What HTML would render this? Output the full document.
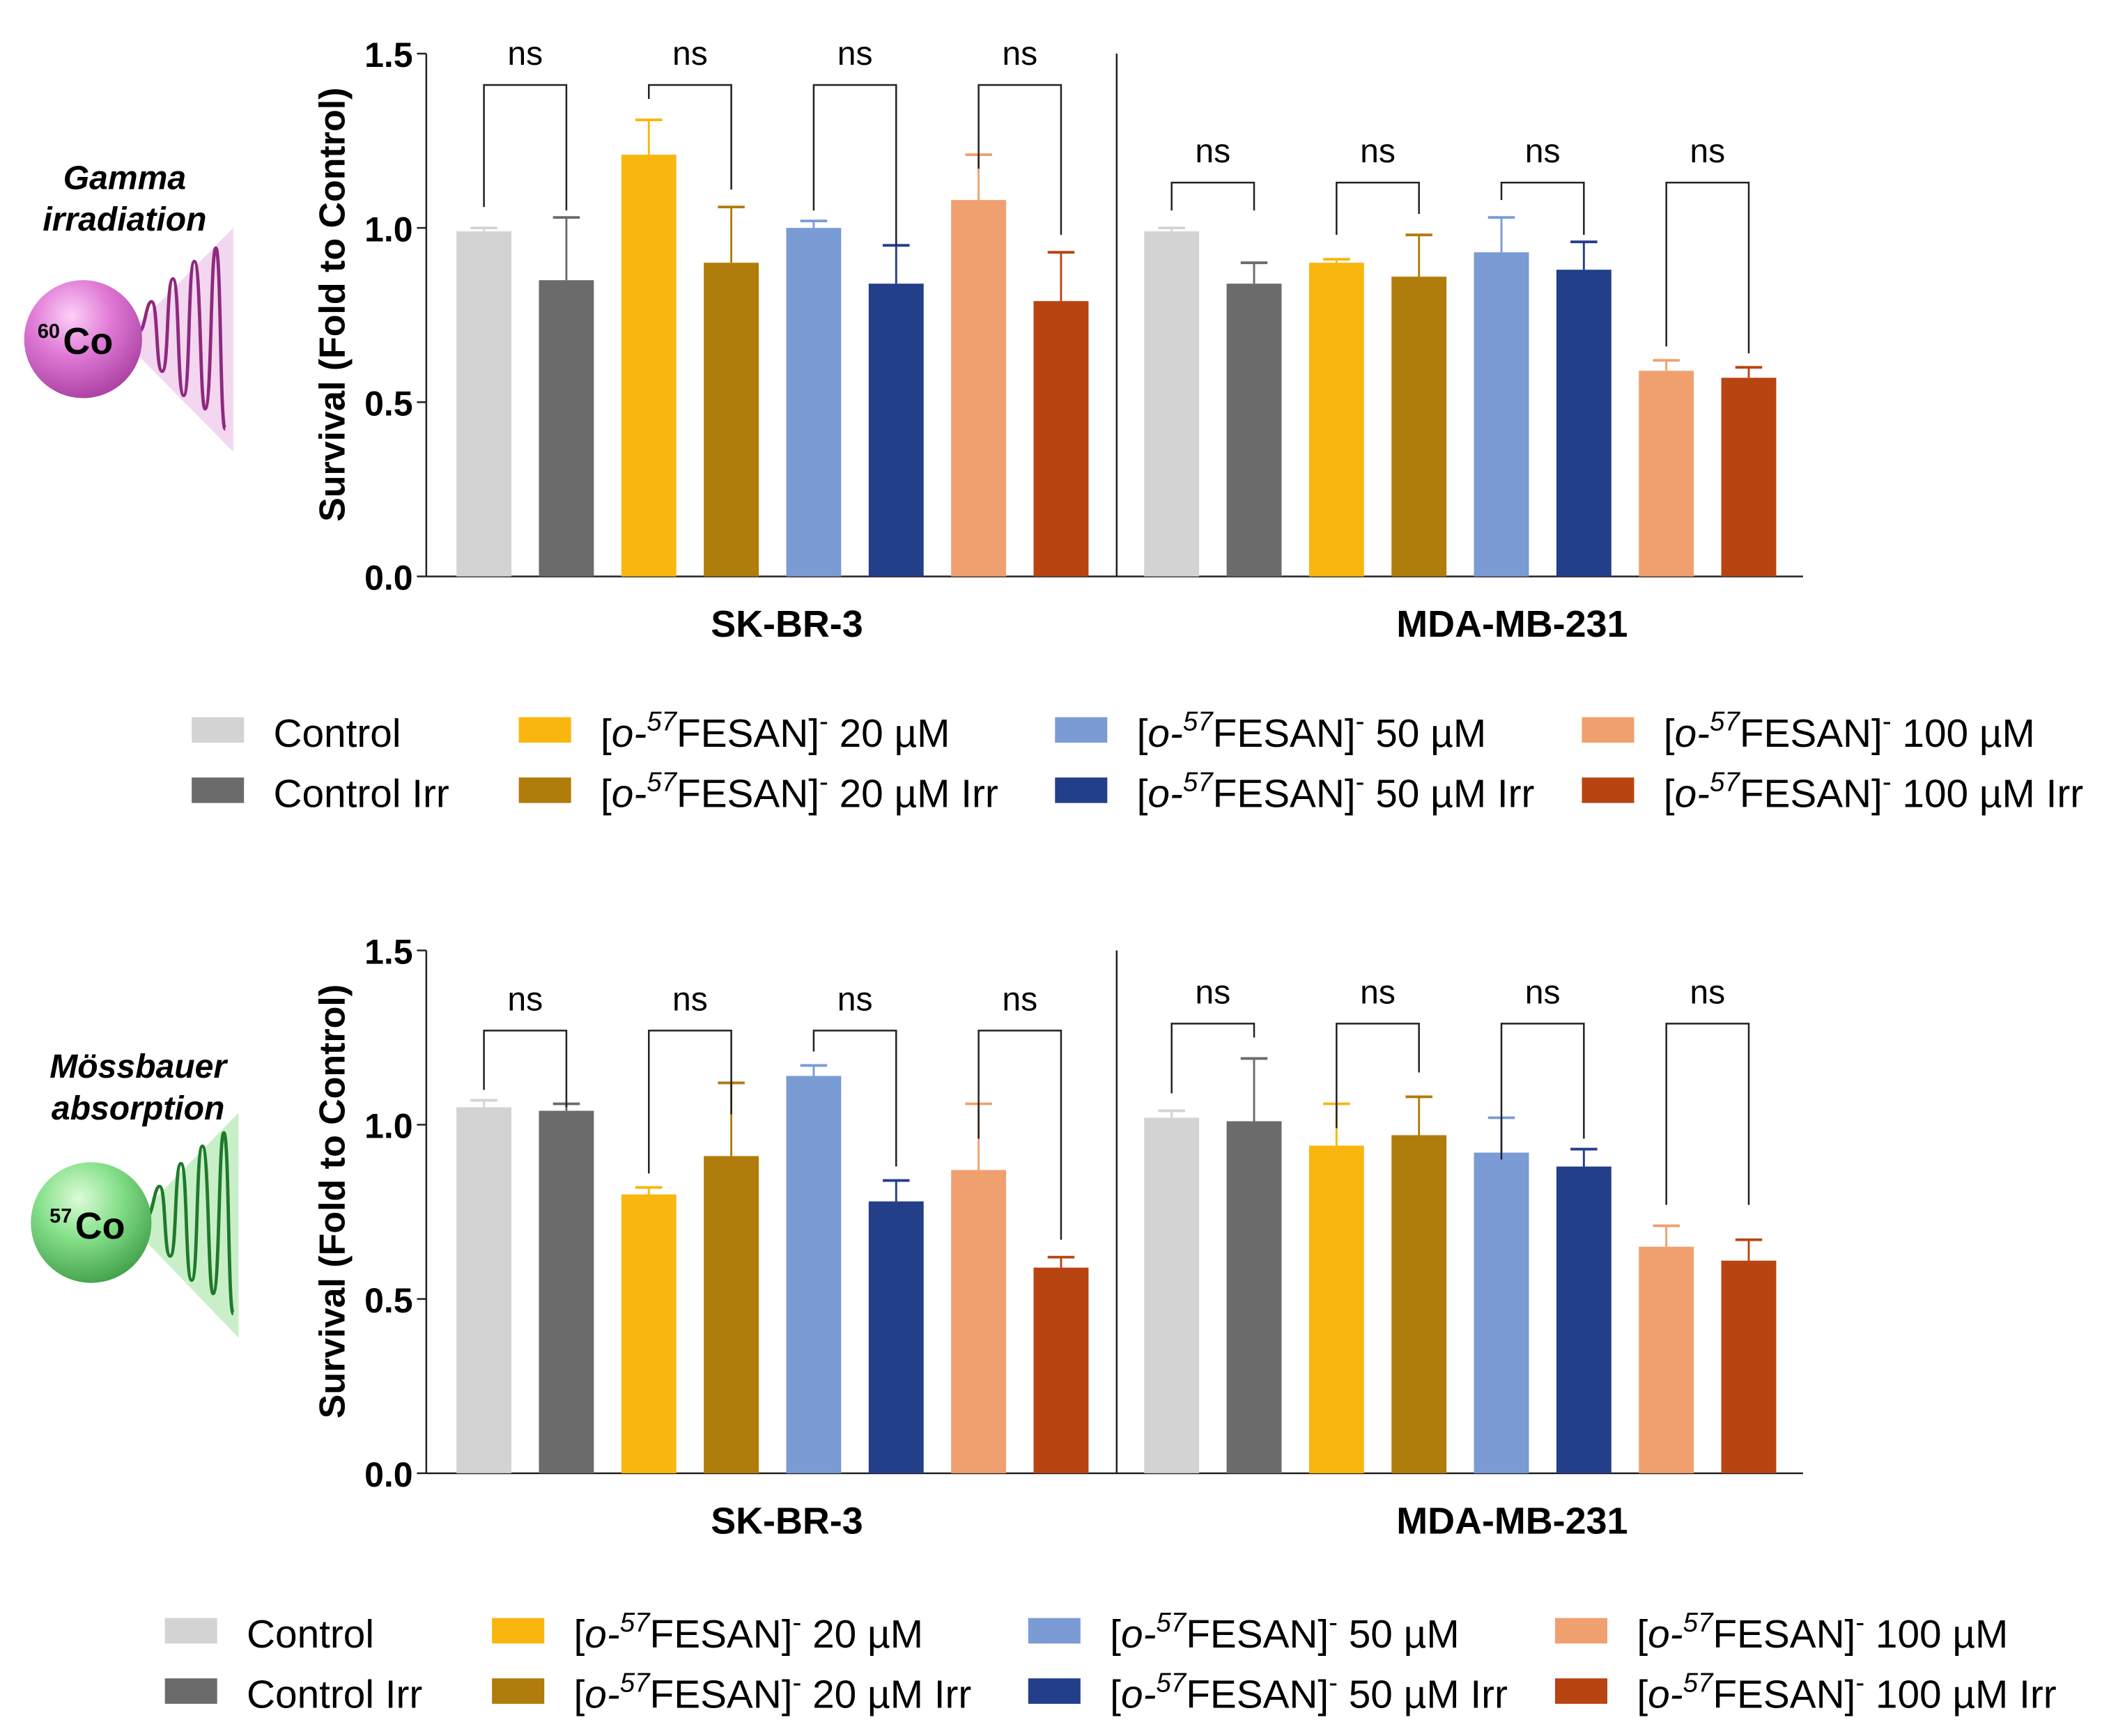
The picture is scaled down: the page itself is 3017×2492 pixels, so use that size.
<!DOCTYPE html>
<html><head><meta charset="utf-8"><style>
html,body{margin:0;padding:0;background:#fff;}
svg{display:block;}
text{font-family:"Liberation Sans",Arial,sans-serif;}
</style></head>
<body>
<svg id="fig" width="3017" height="2492" viewBox="0 0 1568 1295" preserveAspectRatio="none" xmlns="http://www.w3.org/2000/svg">
<defs>
<radialGradient id="gm" cx="0.4" cy="0.3" r="0.75"><stop offset="0" stop-color="#fbd0f6"/><stop offset="0.45" stop-color="#e07ad6"/><stop offset="1" stop-color="#a83ea0"/></radialGradient>
<radialGradient id="gg" cx="0.4" cy="0.3" r="0.75"><stop offset="0" stop-color="#dcfbd8"/><stop offset="0.45" stop-color="#86e08a"/><stop offset="1" stop-color="#3f9e48"/></radialGradient>
</defs>
<g id="icon-top">
<text x="93" y="141" font-size="25" font-weight="bold" font-style="italic" text-anchor="middle">Gamma</text>
<text x="93" y="172" font-size="25" font-weight="bold" font-style="italic" text-anchor="middle">irradiation</text>
<polygon points="100,245 174,170 174,337 100,262" fill="#f3d6ef"/>
<path d="M104,247 C108,247 109,225 113,225 C118,225 116,277 121,277 C126,277 124,208 129,208 C134,208 132,295 137,295 C142,295 140,195 145,195 C150,195 149,305 153,305 C158,305 157,185 161,185 C165,185 164,320 168,320" fill="none" stroke="#8e2a7e" stroke-width="2.5"/>
<circle cx="62" cy="253" r="44" fill="url(#gm)"/>
<text x="28" y="252" font-size="15" font-weight="bold">60</text>
<text x="47" y="264" font-size="28" font-weight="bold">Co</text>
</g>
<g id="icon-bottom">
<text x="103" y="804" font-size="25" font-weight="bold" font-style="italic" text-anchor="middle">Mössbauer</text>
<text x="103" y="835" font-size="25" font-weight="bold" font-style="italic" text-anchor="middle">absorption</text>
<polygon points="105,905 178,830 178,998 105,922" fill="#c9efc9"/>
<path d="M110,907 C114,907 115,885 119,885 C124,885 122,937 127,937 C132,937 130,868 135,868 C140,868 138,955 143,955 C148,955 146,855 151,855 C156,855 155,965 159,965 C164,965 163,845 167,845 C171,845 170,980 174,980" fill="none" stroke="#1f7a2a" stroke-width="2.5"/>
<circle cx="68" cy="912" r="45" fill="url(#gg)"/>
<text x="37" y="912" font-size="15" font-weight="bold">57</text>
<text x="56" y="924" font-size="28" font-weight="bold">Co</text>
</g>
<g id="charts"></g>
</svg>
<script>
// ---- data ----
const groups = ["SK-BR-3","MDA-MB-231"];
const seriesNames = ["Control","Control Irr","20 µM","20 µM Irr","50 µM","50 µM Irr","100 µM","100 µM Irr"];
const colors = ["#d3d3d3","#6b6b6b","#f9b60f","#b07c0b","#7b9bd4","#233f8a","#f0a06e","#b84412"];
const yTicks = [0.0,0.5,1.0,1.5];
const yTickLabels = ["0.0","0.5","1.0","1.5"];
// top panel (gamma)
const topSK = [0.99,0.85,1.21,0.90,1.00,0.84,1.08,0.79];
const topSKErr = [1.00,1.03,1.31,1.06,1.02,0.95,1.21,0.93];
const topMDA = [0.99,0.84,0.90,0.86,0.93,0.88,0.59,0.57];
const topMDAErr = [1.00,0.90,0.91,0.98,1.03,0.96,0.62,0.60];
const topSKBracket = [1.41,1.41,1.41,1.41];
const topSKLegL = [1.06,1.37,1.05,1.17];
const topSKLegR = [1.05,1.11,0.95,0.98];
const topMDABracket = [1.13,1.13,1.13,1.13];
const topMDALegL = [1.05,0.98,1.08,0.66];
const topMDALegR = [1.05,1.04,0.98,0.64];
// bottom panel (Mössbauer)
const botSK = [1.05,1.04,0.80,0.91,1.14,0.78,0.87,0.59];
const botSKErr = [1.07,1.06,0.82,1.12,1.17,0.84,1.06,0.62];
const botMDA = [1.02,1.01,0.94,0.97,0.92,0.88,0.65,0.61];
const botMDAErr = [1.04,1.19,1.06,1.08,1.02,0.93,0.71,0.67];
const botSKBracket = [1.27,1.27,1.27,1.27];
const botSKLegL = [1.10,0.86,1.21,0.96];
const botSKLegR = [1.05,1.03,0.88,0.67];
const botMDABracket = [1.29,1.29,1.29,1.29];
const botMDALegL = [1.09,0.99,0.90,0.77];
const botMDALegR = [1.25,1.15,0.96,0.77];

const NS="http://www.w3.org/2000/svg";
const root=document.getElementById('charts');
function el(tag,attrs,parent,txt){const e=document.createElementNS(NS,tag);for(const k in attrs)e.setAttribute(k,attrs[k]);if(txt!==undefined)e.textContent=txt;(parent||root).appendChild(e);return e;}

function panel(y0,idp,dataSets){
  const ax=318, x0=318, xEnd=1345;
  const yS=v=>y0-v*260;
  const g=el('g',{id:idp});
  
  
  el('line',{x1:ax,y1:yS(1.5),x2:ax,y2:y0,stroke:'#222','stroke-width':1.3},g);
  el('line',{x1:x0,y1:y0,x2:xEnd,y2:y0,stroke:'#222','stroke-width':1.3},g);
  el('line',{x1:833,y1:yS(1.5),x2:833,y2:y0,stroke:'#222','stroke-width':1.3},g);
  yTicks.forEach((t,i)=>{
    el('line',{x1:ax-7,y1:yS(t),x2:ax,y2:yS(t),stroke:'#222','stroke-width':1.3},g);
    const tl=el('text',{x:ax-10,y:yS(t)+10,'font-size':26,'font-weight':'bold','text-anchor':'end'},g,yTickLabels[i]);
    
    
  });
  const yt=el('text',{x:0,y:0,'font-size':27,'font-weight':'bold','text-anchor':'middle',transform:`translate(257,${yS(0.78)}) rotate(-90)`},g,'Survival (Fold to Control)');
  
  
  const starts=[361,874], step=61.5, bw=41;
  dataSets.forEach((ds,gi)=>{
    const gl=el('text',{x:gi?1128:587,y:y0+45,'font-size':28,'font-weight':'bold','text-anchor':'middle'},g,groups[gi]);
    
    
    ds.vals.forEach((v,i)=>{
      const cx=starts[gi]+i*step;
      const r=el('rect',{x:cx-bw/2,y:yS(v),width:bw,height:yS(0)-yS(v),fill:colors[i]},g);
      
      
      const e=ds.err[i];
      el('line',{x1:cx,y1:yS(v),x2:cx,y2:yS(e),stroke:colors[i],'stroke-width':1.5},g);
      el('line',{x1:cx-10,y1:yS(e),x2:cx+10,y2:yS(e),stroke:colors[i],'stroke-width':2},g);
    });
    for(let p=0;p<4;p++){
      const xl=starts[gi]+2*p*step, xr=xl+step, yb=yS(ds.br[p]);
      const b=el('path',{d:`M${xl},${yS(ds.legL[p])} V${yb} H${xr} V${yS(ds.legR[p])}`,fill:'none',stroke:'#222','stroke-width':1.3},g);
      
      
      const t=el('text',{x:(xl+xr)/2,y:yb-15,'font-size':25,'text-anchor':'middle'},g,'ns');
      
      
    }
  });
}
panel(430,'chart-gamma',[
  {vals:topSK,err:topSKErr,br:topSKBracket,legL:topSKLegL,legR:topSKLegR},
  {vals:topMDA,err:topMDAErr,br:topMDABracket,legL:topMDALegL,legR:topMDALegR}]);
panel(1099,'chart-mossbauer',[
  {vals:botSK,err:botSKErr,br:botSKBracket,legL:botSKLegL,legR:botSKLegR},
  {vals:botMDA,err:botMDAErr,br:botMDABracket,legL:botMDALegL,legR:botMDALegR}]);

function legend(dx,ty,idl){
  const g=el('g',{id:idl});
  
  
  const cols=[143,387,787,1180];
  for(let i=0;i<8;i++){
    const c=Math.floor(i/2), row=i%2;
    const x=cols[c]+dx, y=ty+row*45;
    const sw=el('rect',{x:x,y:y-10,width:39,height:19,fill:colors[i]},g);
    
    
    const t=el('text',{x:x+61,y:y+12,'font-size':29.5},g);
    
    
    if(c===0){t.textContent=seriesNames[i];}
    else{
      const conc=seriesNames[i];
      t.innerHTML=`[<tspan font-style="italic">o-</tspan><tspan font-style="italic" font-size="20" dy="-12">57</tspan><tspan dy="12">FESAN]</tspan><tspan font-size="20" dy="-12">-</tspan><tspan dy="12"> ${conc}</tspan>`;
    }
  }
}
legend(0,545,'legend-top');
legend(-20,1217,'legend-bottom');
</script>
</body></html>
